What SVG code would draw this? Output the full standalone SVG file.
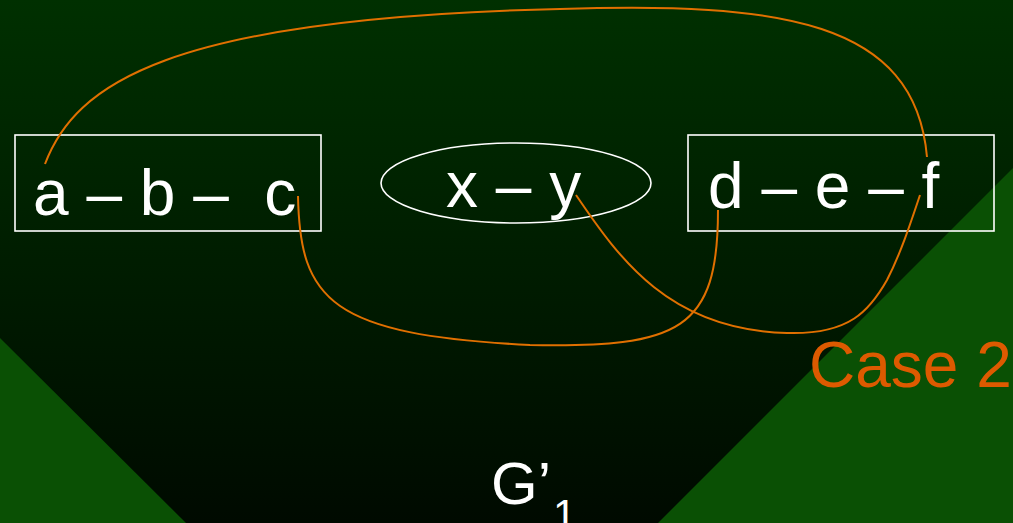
<svg xmlns="http://www.w3.org/2000/svg" width="1013" height="523" viewBox="0 0 1013 523">
  <defs>
    <linearGradient id="bg" x1="0" y1="0" x2="0" y2="1">
      <stop offset="0" stop-color="#003000"/>
      <stop offset="1" stop-color="#000a00"/>
    </linearGradient>
  </defs>
  <style>
    .lbl { font-family: "Liberation Sans", Arial, sans-serif; fill: #ffffff; font-size: 64px; }
    .box { fill: none; stroke: #ffffff; stroke-width: 1.6; }
    .edge { fill: none; stroke: #e07000; stroke-width: 2; }
    .tri { fill: #0a5004; }
  </style>
  <rect x="0" y="0" width="1013" height="523" fill="url(#bg)"/>
  <polygon class="tri" points="0,338 186,523 0,523"/>
  <polygon class="tri" points="658,523 1013,168 1013,523"/>

  <g id="node-abc">
    <rect class="box" x="15" y="135" width="306" height="96"/>
    <text class="lbl" x="33" y="215" xml:space="preserve">a – b –  c</text>
  </g>
  <g id="node-xy">
    <ellipse class="box" cx="516" cy="183" rx="135" ry="40"/>
    <text class="lbl" x="446" y="207" xml:space="preserve">x – y</text>
  </g>
  <g id="node-def">
    <rect class="box" x="688" y="135" width="306" height="96"/>
    <text class="lbl" x="708" y="208" xml:space="preserve">d – e – f</text>
  </g>

  <g id="connectors">
    <path class="edge" d="M45,164 C75,85 165,18 560,9 C780,2 915,20 927,157"/>
    <path class="edge" d="M298,196 C300,300 330,335 530,345 C680,348 718,330 718,210"/>
    <path class="edge" d="M576,195 C620,260 670,330 787,333 C850,335 870,310 887,280 C900,255 910,225 920,195"/>
  </g>

  <g id="label-case">
    <text x="809" y="387" style="font-family: 'Liberation Sans', Arial, sans-serif; font-size: 64px; fill: #dd5a00;">Case 2</text>
  </g>
  <g id="label-g">
    <text class="lbl" x="491" y="504" style="font-size: 60px;">G’<tspan x="553" y="529" style="font-size: 42px;">1</tspan></text>
  </g>
</svg>
